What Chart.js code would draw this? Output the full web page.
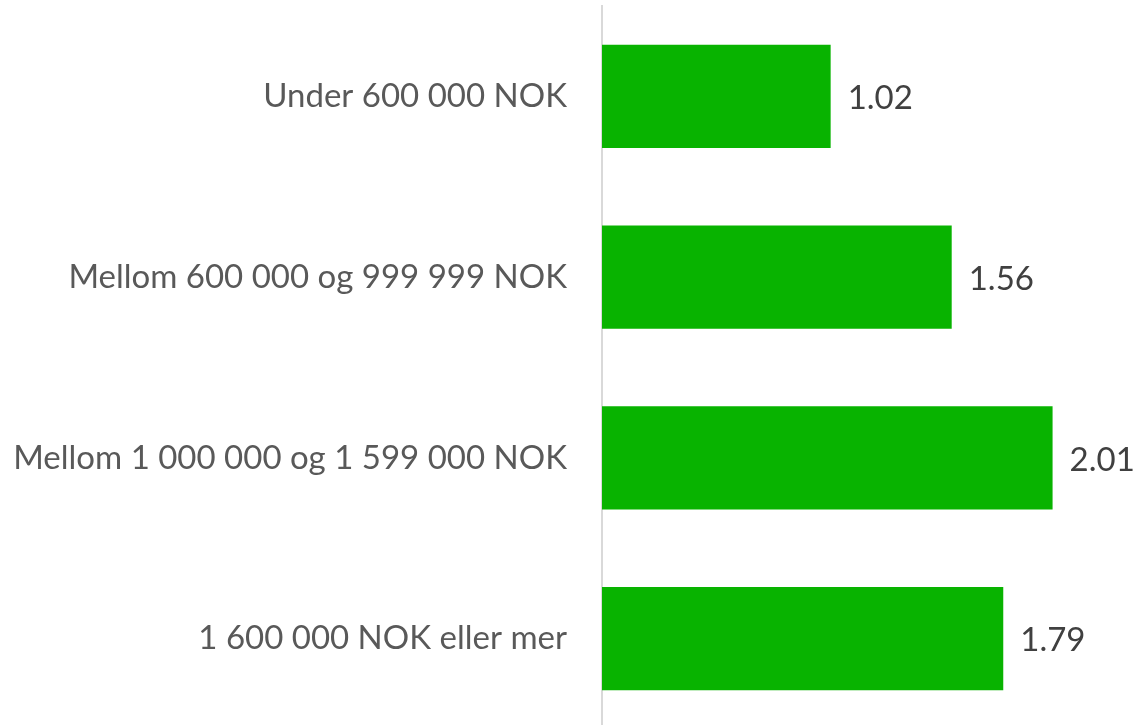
<!DOCTYPE html>
<html>
<head>
<meta charset="utf-8">
<script src="https://cdn.jsdelivr.net/npm/chart.js@4"></script>
<style>
  html, body { margin: 0; padding: 0; background: #fff; overflow: hidden; }
  #wrap { width: 1140px; height: 729px; }
</style>
</head>
<body>
<div id="wrap"><canvas id="incomeChart"></canvas></div>
<script>
// Values per income group
const categories = [
    'Under 600 000 NOK',
    'Mellom 600 000 og 999 999 NOK',
    'Mellom 1 000 000 og 1 599 000 NOK',
    '1 600 000 NOK eller mer'
];
const values = [1.02, 1.56, 2.01, 1.79];

const FONT = 'Lato, "Open Sans", sans-serif';

// draws the number just right of each bar
const valueLabels = {
    id: 'valueLabels',
    afterDatasetsDraw(chart) {
        const c = chart.ctx;
        const meta = chart.getDatasetMeta(0);
        c.save();
        c.font = '33px ' + FONT;
        c.fillStyle = '#404040';
        c.textAlign = 'left';
        c.textBaseline = 'middle';
        meta.data.forEach((bar, i) => {
            c.fillText(values[i].toFixed(2), bar.x + 17, bar.y + 2);
        });
        c.restore();
    }
};

new Chart(document.getElementById('incomeChart'), {
    type: 'bar',
    data: {
        labels: categories,
        datasets: [{
            data: values,
            backgroundColor: '#08b300',
            borderWidth: 0,
            categoryPercentage: 1,
            barPercentage: 0.572
        }]
    },
    options: {
        indexAxis: 'y',
        responsive: true,
        maintainAspectRatio: false,
        animation: false,
        layout: { padding: { top: 6, bottom: 0, right: 0, left: 0 } },
        plugins: {
            legend: { display: false },
            tooltip: { enabled: false }
        },
        scales: {
            x: { display: false, min: 0, max: 2.4 },
            y: {
                afterFit(scale) {
                    scale.width = 602;
                    scale.paddingTop = 0;
                    scale.paddingBottom = 0;
                },
                grid: { display: false, drawTicks: false },
                border: { display: true, color: '#d9d9d9', width: 2 },
                ticks: {
                    padding: 35,
                    color: '#595959',
                    font: { family: FONT, size: 33 }
                }
            }
        }
    },
    plugins: [valueLabels]
});
</script>
</body>
</html>
